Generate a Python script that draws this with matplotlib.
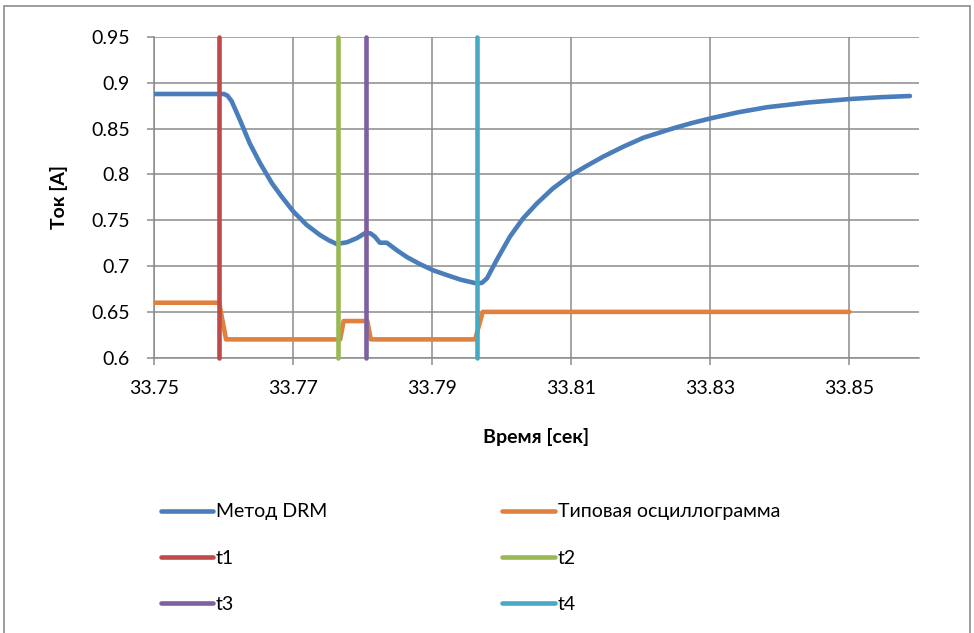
import matplotlib.pyplot as plt
from matplotlib.patches import Rectangle

# данные
t_drm = [33.7501, 33.7601, 33.7606, 33.7612, 33.7624, 33.7638, 33.7653, 33.7670, 33.7684,
         33.7701, 33.7720, 33.7739, 33.7752, 33.7763, 33.7778, 33.7792, 33.7805, 33.7812,
         33.7818, 33.7825, 33.7835, 33.7850, 33.7864, 33.7883, 33.7902, 33.7922, 33.7941,
         33.7965, 33.7972, 33.7979, 33.7993, 33.8012, 33.8031, 33.8051, 33.8074, 33.8100,
         33.8122, 33.8146, 33.8175, 33.8204, 33.8247, 33.8274, 33.8301, 33.8340, 33.8381,
         33.8440, 33.8501, 33.8545, 33.8587]
i_drm = [0.8878, 0.8878, 0.8860, 0.8800, 0.8594, 0.8340, 0.8122, 0.7903, 0.7757,
         0.7593, 0.7448, 0.7339, 0.7280, 0.7241, 0.7260, 0.7305, 0.7365, 0.7355,
         0.7320, 0.7255, 0.7255, 0.7170, 0.7098, 0.7020, 0.6953, 0.6900, 0.6852,
         0.6809, 0.6818, 0.6866, 0.7066, 0.7321, 0.7521, 0.7685, 0.7849, 0.7994,
         0.8092, 0.8194, 0.8303, 0.8401, 0.8504, 0.8562, 0.8613, 0.8678, 0.8733,
         0.8785, 0.8823, 0.8843, 0.8856]

t_osc = [33.7500, 33.7594, 33.7604, 33.7768, 33.7773, 33.7807, 33.7812, 33.7962, 33.7973, 33.8500]
i_osc = [0.660, 0.660, 0.620, 0.620, 0.640, 0.640, 0.620, 0.620, 0.650, 0.650]

t_marks = [33.7594, 33.7765, 33.7805, 33.7965]
mark_names = ["t1", "t2", "t3", "t4"]
mark_colors = ["#BE4B48", "#98B954", "#7D60A0", "#46AAC5"]

plt.rcParams['font.family'] = ['Lato', 'DejaVu Sans']

fig = plt.figure(figsize=(9.74, 6.33), dpi=100)
ax = fig.add_axes([153.7 / 974, 1 - 357.7 / 633, (919 - 153.7) / 974, (357.7 - 37) / 633])

lw = 3.3
h_drm, = ax.plot(t_drm, i_drm, color="#4A7EBB", lw=lw, solid_capstyle='round',
                 solid_joinstyle='round', label="Метод DRM", zorder=3)
h_osc, = ax.plot(t_osc, i_osc, color="#E0823D", lw=lw, solid_capstyle='round',
                 label="Типовая осциллограмма", zorder=3)
h_marks = []
for t, name, c in zip(t_marks, mark_names, mark_colors):
    h, = ax.plot([t, t], [0.6, 0.95], color=c, lw=lw, solid_capstyle='round', label=name,
                 zorder=4, clip_on=False)
    h_marks.append(h)

ax.set_xlim(33.75, 33.86)
ax.set_ylim(0.6, 0.95)
ax.set_xticks([33.75, 33.77, 33.79, 33.81, 33.83, 33.85])
ax.set_xticklabels(["33.75", "33.77", "33.79", "33.81", "33.83", "33.85"])
ax.set_yticks([0.6, 0.65, 0.7, 0.75, 0.8, 0.85, 0.9, 0.95])
ax.set_yticklabels(["0.6", "0.65", "0.7", "0.75", "0.8", "0.85", "0.9", "0.95"])
ax.grid(True, color="#8C8C8C", lw=1.1)
ax.set_axisbelow(True)
for s in ["top", "right"]:
    ax.spines[s].set_visible(False)
for s in ["left", "bottom"]:
    ax.spines[s].set_color("#8C8C8C")
    ax.spines[s].set_linewidth(1.1)
ax.tick_params(direction='out', length=5, color="#8C8C8C", width=1.1, labelsize=14)
ax.tick_params(axis='y', pad=12)
ax.tick_params(axis='x', pad=11)

ax.set_xlabel("Время [сек]", fontsize=14, fontweight='bold', va='center')
ax.xaxis.set_label_coords(0.5, (357.7 - 437) / 320.7)
ax.set_ylabel("Ток [A]", fontsize=14, fontweight='bold', va='center')
ax.yaxis.set_label_coords((59 - 153.7) / 765.3, 0.5)

handles = [h_drm, h_marks[0], h_marks[2], h_osc, h_marks[1], h_marks[3]]
fig.legend(handles=handles, labels=[h.get_label() for h in handles], ncol=2,
           loc='upper left', bbox_to_anchor=(143 / 974, 1 - 486 / 633), frameon=False,
           fontsize=14, handlelength=2.7, handletextpad=0.15, columnspacing=9.0,
           labelspacing=1.5)

fig.patches.append(Rectangle((4 / 974, -0.05), 966 / 974, 1.05 - 6 / 633, transform=fig.transFigure,
                             fill=False, edgecolor="#8C8C8C", lw=1.2))

fig.savefig("out.png", dpi=100)
